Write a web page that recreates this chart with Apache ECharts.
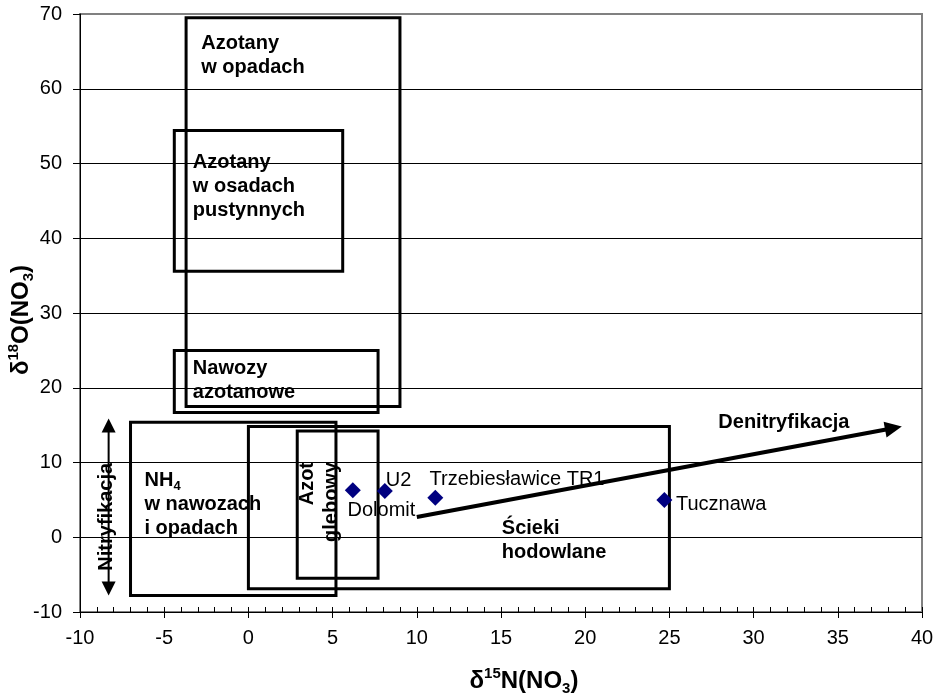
<!DOCTYPE html>
<html>
<head>
<meta charset="utf-8">
<script src="https://cdn.jsdelivr.net/npm/echarts@6/dist/echarts.min.js"></script>
<style>
  html, body { margin: 0; padding: 0; background: #fff; }
  #chart { width: 939px; height: 697px; }
</style>
</head>
<body>
<div id="chart"></div>
<script>
// Isotope source fields, [δ15N min, δ15N max, δ18O min, δ18O max]
const fieldNames = ['Azotany w opadach', 'Azotany w osadach pustynnych', 'Nawozy azotanowe',
                    'NH4 w nawozach i opadach', 'Ścieki hodowlane', 'Azot glebowy'];
const fieldN15Min = [-3.7, -4.4, -4.4, -7.0, 0.0, 2.9];
const fieldN15Max = [9.0, 5.6, 7.7, 5.2, 25.0, 7.7];
const fieldO18Min = [17.5, 35.6, 16.7, -7.8, -6.9, -5.5];
const fieldO18Max = [69.5, 54.4, 25.0, 15.4, 14.8, 14.2];

// Measured samples
const sampleNames = ['Dolomit', 'U2', 'Trzebiesławice TR1', 'Tucznawa'];
const sampleN15 = [6.2, 8.1, 11.1, 24.7];
const sampleO18 = [6.3, 6.2, 5.3, 5.0];

// Process arrows: start (N, O) and end (N, O)
const arrowNames = ['Denitryfikacja', 'Nitryfikacja'];
const arrowFrom = [[10.0, 2.7], [-8.3, -7.8]];
const arrowTo = [[38.8, 14.8], [-8.3, 15.9]];

// Annotation text and its anchor (δ15N, δ18O)
const noteTexts = [
  'Azotany\nw opadach',
  'Azotany\nw osadach\npustynnych',
  'Nawozy\nazotanowe',
  '{t|NH}{s|4}\n{t|w nawozach}\n{t|i opadach}',
  'Ścieki\nhodowlane',
  'Denitryfikacja',
  'Nitryfikacja',
  'Azot\nglebowy'
];
const noteN15 = [-2.8, -3.3, -3.3, -6.17, 15.05, 31.8, -8.4, 2.79];
const noteO18 = [67.7, 51.8, 24.2, 9.2, 2.8, 15.4, 2.74, 10.07];

// Axis ticks
const xTicks = { min: -10, max: 40, step: 5 };
const yTicks = { min: -10, max: 70, step: 10 };

const FONT = 'Arial, "Liberation Sans", sans-serif';

// Layout of each annotation: alignment and rotation
const noteLayout = [
  { align: 'left', vAlign: 'top', rot: 0 },
  { align: 'left', vAlign: 'top', rot: 0 },
  { align: 'left', vAlign: 'top', rot: 0 },
  { align: 'left', vAlign: 'top', rot: 0 },
  { align: 'left', vAlign: 'top', rot: 0 },
  { align: 'center', vAlign: 'middle', rot: 0 },
  { align: 'center', vAlign: 'middle', rot: Math.PI / 2 },
  { align: 'right', vAlign: 'top', rot: Math.PI / 2 }
];
// Arrow drawing styles
const arrowStyle = [
  { width: 4, headLen: 17, headWid: 16, startHead: false, endHead: true },
  { width: 2, headLen: 14, headWid: 14, startHead: true, endHead: true }
];
// Sample label nudges (pixels), relative to the 'right' label position
const sampleLabelOffset = [[-18.3, 20.5], [-12, -10.7], [-18.7, -17.7], [-1.4, 4.2]];

const chart = echarts.init(document.getElementById('chart'), null, { renderer: 'canvas' });

const fieldData = fieldNames.map((n, i) => [fieldN15Min[i], fieldN15Max[i], fieldO18Min[i], fieldO18Max[i]]);
const arrowData = arrowNames.map((n, i) => [arrowFrom[i][0], arrowFrom[i][1], arrowTo[i][0], arrowTo[i][1]]);
const noteData = noteTexts.map((t, i) => [noteN15[i], noteO18[i]]);
const sampleData = sampleNames.map((n, i) => ({
  name: n,
  value: [sampleN15[i], sampleO18[i]],
  label: { offset: sampleLabelOffset[i] }
}));

const titleRich = {
  m: { fontSize: 24, fontWeight: 'bold', fontFamily: FONT, color: '#000', lineHeight: 30 },
  sup: { fontSize: 15, fontWeight: 'bold', fontFamily: FONT, color: '#000', lineHeight: 18, verticalAlign: 'top' },
  sub: { fontSize: 15, fontWeight: 'bold', fontFamily: FONT, color: '#000', lineHeight: 18, verticalAlign: 'bottom' }
};

const option = {
  animation: false,
  backgroundColor: '#fff',
  grid: {
    left: 80, right: 17, top: 14, bottom: 85,
    outerBoundsMode: 'none',
    containLabel: false,
    show: true, backgroundColor: '#fff', borderColor: '#808080', borderWidth: 2
  },
  xAxis: [{
    type: 'value',
    min: xTicks.min, max: xTicks.max, interval: xTicks.step,
    position: 'bottom',
    axisLine: { show: true, onZero: false, lineStyle: { color: '#000', width: 1 } },
    axisTick: { show: true, inside: false, length: 6, lineStyle: { color: '#000' } },
    axisLabel: { color: '#000', fontSize: 20, fontFamily: FONT, margin: 16 },
    splitLine: { show: false },
    name: '{m|δ}{sup|15}{m|N(NO}{sub|3}{m|)}',
    nameLocation: 'middle',
    nameGap: 54,
    nameMoveOverlap: false,
    nameTextStyle: { padding: [0, 0, 0, 46], rich: titleRich }
  }, {
    // unit ticks pointing into the plot
    type: 'value',
    min: xTicks.min, max: xTicks.max, interval: 1,
    position: 'bottom',
    axisLine: { show: false, onZero: false },
    axisTick: { show: true, inside: true, length: 5, lineStyle: { color: '#000' } },
    axisLabel: { show: false },
    splitLine: { show: false }
  }],
  yAxis: {
    type: 'value',
    min: yTicks.min, max: yTicks.max, interval: yTicks.step,
    axisLine: { show: true, onZero: false, lineStyle: { color: '#000', width: 1 } },
    axisTick: { show: true, inside: false, length: 7, lineStyle: { color: '#000' } },
    axisLabel: { color: '#000', fontSize: 20, fontFamily: FONT, margin: 18 },
    splitLine: { show: true, showMinLine: false, showMaxLine: false, lineStyle: { color: '#000', width: 1 } },
    name: '{m|δ}{sup|18}{m|O(NO}{sub|3}{m|)}',
    nameLocation: 'middle',
    nameGap: 44,
    nameMoveOverlap: false,
    nameTextStyle: { padding: [0, 14, 0, 0], rich: titleRich }
  },
  series: [
    {
      // source field rectangles
      type: 'custom',
      z: 3,
      data: fieldData,
      encode: { x: [0, 1], y: [2, 3] },
      renderItem: function (params, api) {
        const a = api.coord([api.value(0), api.value(3)]);
        const b = api.coord([api.value(1), api.value(2)]);
        return {
          type: 'rect',
          shape: { x: a[0], y: a[1], width: b[0] - a[0], height: b[1] - a[1] },
          style: { fill: 'none', stroke: '#000', lineWidth: 3 }
        };
      }
    },
    {
      // process arrows
      type: 'custom',
      z: 4,
      data: arrowData,
      encode: { x: [0, 2], y: [1, 3] },
      renderItem: function (params, api) {
        const st = arrowStyle[params.dataIndex];
        const p1 = api.coord([api.value(0), api.value(1)]);
        const p2 = api.coord([api.value(2), api.value(3)]);
        const dx = p2[0] - p1[0], dy = p2[1] - p1[1];
        const len = Math.sqrt(dx * dx + dy * dy);
        const ux = dx / len, uy = dy / len;
        const nx = -uy, ny = ux;
        const children = [];
        let s = p1.slice(), e = p2.slice();
        function head(tip, dirx, diry) {
          const bx = tip[0] - dirx * st.headLen, by = tip[1] - diry * st.headLen;
          children.push({
            type: 'polygon',
            shape: { points: [tip, [bx + nx * st.headWid / 2, by + ny * st.headWid / 2], [bx - nx * st.headWid / 2, by - ny * st.headWid / 2]] },
            style: { fill: '#000' }
          });
          return [bx + dirx * 1, by + diry * 1];
        }
        if (st.endHead) e = head(p2, ux, uy);
        if (st.startHead) s = head(p1, -ux, -uy);
        children.push({
          type: 'line',
          shape: { x1: s[0], y1: s[1], x2: e[0], y2: e[1] },
          style: { stroke: '#000', lineWidth: st.width }
        });
        return { type: 'group', children: children };
      }
    },
    {
      // field and process annotations
      type: 'custom',
      z: 5,
      data: noteData,
      renderItem: function (params, api) {
        const i = params.dataIndex;
        const lay = noteLayout[i];
        const p = api.coord([api.value(0), api.value(1)]);
        return {
          type: 'text',
          x: p[0], y: p[1],
          rotation: lay.rot,
          style: {
            text: noteTexts[i],
            x: 0, y: 0,
            fill: '#000',
            font: 'bold 20px ' + FONT,
            align: lay.align,
            verticalAlign: lay.vAlign,
            lineHeight: 24,
            rich: {
              t: { font: 'bold 20px ' + FONT, fill: '#000', lineHeight: 24 },
              s: { font: 'bold 13px ' + FONT, fill: '#000', lineHeight: 24, padding: [12, 0, 0, 0] }
            }
          }
        };
      }
    },
    {
      // samples
      type: 'scatter',
      z: 6,
      symbol: 'diamond',
      symbolSize: 16,
      itemStyle: { color: '#000080', opacity: 1 },
      label: {
        show: true,
        position: 'right',
        formatter: '{b}',
        color: '#000',
        fontSize: 20,
        fontFamily: FONT
      },
      emphasis: { disabled: true },
      data: sampleData
    }
  ]
};

chart.setOption(option);
</script>
</body>
</html>
